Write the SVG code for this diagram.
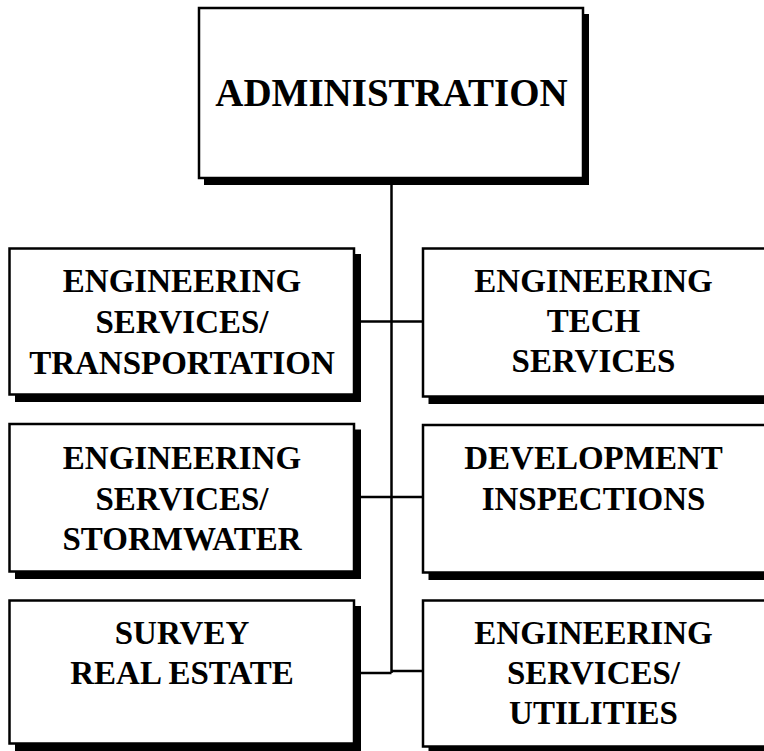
<svg xmlns="http://www.w3.org/2000/svg" width="764" height="751" viewBox="0 0 764 751">
<style>
.sh{fill:#000}
.bx{fill:#fff;stroke:#000;stroke-width:2.5}
.t{font-family:"Liberation Serif","Times New Roman",serif;font-weight:bold;font-size:33px;text-anchor:middle;fill:#000}
.ta{font-size:39px}
.c{stroke:#000;stroke-width:2.5;fill:none}
</style>
<rect width="764" height="751" fill="#fff"/>
<g id="connectors">
<line class="c" x1="391.5" y1="178" x2="391.5" y2="673"/>
<line class="c" x1="354" y1="321.5" x2="423" y2="321.5"/>
<line class="c" x1="354" y1="497" x2="423" y2="497"/>
<line class="c" x1="354" y1="673" x2="391.5" y2="673"/>
<line class="c" x1="391.5" y1="671" x2="423" y2="671"/>
</g>
<g id="administration">
<rect class="sh" x="204" y="14" width="385" height="171"/>
<rect class="bx" x="199" y="8" width="384" height="170"/>
<text class="t ta" x="391.5" y="106">ADMINISTRATION</text>
</g>
<g id="eng-transportation">
<rect class="sh" x="15" y="254" width="346" height="148"/>
<rect class="bx" x="9.5" y="248.5" width="344.5" height="146"/>
<text class="t" x="182" y="291.5">ENGINEERING</text>
<text class="t" x="182" y="333">SERVICES/</text>
<text class="t" x="182" y="373.5">TRANSPORTATION</text>
</g>
<g id="eng-tech">
<rect class="sh" x="428.5" y="254" width="346" height="150"/>
<rect class="bx" x="423" y="248.5" width="344.5" height="148"/>
<text class="t" x="593.5" y="291.5">ENGINEERING</text>
<text class="t" x="593.5" y="332">TECH</text>
<text class="t" x="593.5" y="372">SERVICES</text>
</g>
<g id="eng-stormwater">
<rect class="sh" x="15" y="429.5" width="346" height="149.5"/>
<rect class="bx" x="9.5" y="424" width="344.5" height="147.5"/>
<text class="t" x="182" y="468.5">ENGINEERING</text>
<text class="t" x="182" y="510">SERVICES/</text>
<text class="t" x="182" y="550">STORMWATER</text>
</g>
<g id="dev-inspections">
<rect class="sh" x="428.5" y="430.5" width="346" height="149.5"/>
<rect class="bx" x="423" y="425" width="344.5" height="147.5"/>
<text class="t" x="593.5" y="468.5">DEVELOPMENT</text>
<text class="t" x="593.5" y="509.5">INSPECTIONS</text>
</g>
<g id="survey-real-estate">
<rect class="sh" x="15" y="606" width="346" height="145"/>
<rect class="bx" x="9.5" y="600.5" width="344.5" height="143"/>
<text class="t" x="182" y="643.5">SURVEY</text>
<text class="t" x="182" y="683.5">REAL ESTATE</text>
</g>
<g id="eng-utilities">
<rect class="sh" x="428.5" y="606" width="346" height="148"/>
<rect class="bx" x="423" y="600.5" width="344.5" height="146"/>
<text class="t" x="593.5" y="643.5">ENGINEERING</text>
<text class="t" x="593.5" y="683.5">SERVICES/</text>
<text class="t" x="593.5" y="723.5">UTILITIES</text>
</g>
</svg>
